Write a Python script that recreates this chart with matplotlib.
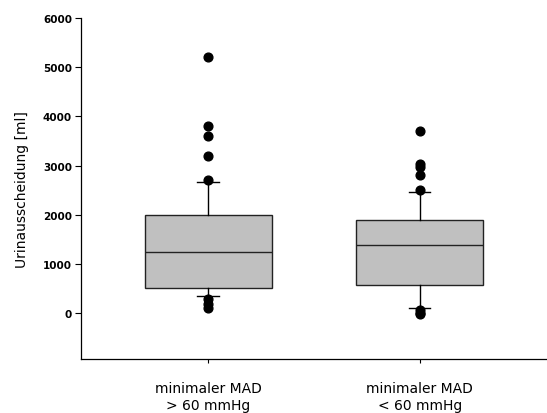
import matplotlib
matplotlib.use("Agg")
import matplotlib.pyplot as plt

plt.rcParams['font.family'] = ['DejaVu Sans']

labels = ["minimaler MAD\n> 60 mmHg", "minimaler MAD\n< 60 mmHg"]
q1 = [510, 570]
med = [1240, 1380]
q3 = [2000, 1890]
whislo = [345, 100]
whishi = [2660, 2470]
fliers = [[5200, 3800, 3600, 3200, 2700, 300, 200, 100],
          [3700, 3030, 2980, 2820, 2500, 60, 0, -20]]

stats = []
for i in range(2):
    stats.append(dict(q1=q1[i], med=med[i], q3=q3[i], whislo=whislo[i],
                      whishi=whishi[i], fliers=fliers[i], label=labels[i]))

fig = plt.figure(figsize=(5.47, 4.14), dpi=100)
ax = fig.add_axes([0.148, 0.130, 0.852, 0.824])

ax.bxp(stats, positions=[1, 2], widths=0.6, patch_artist=True,
       boxprops=dict(facecolor="#c0c0c0", edgecolor="#222222", linewidth=1.0),
       medianprops=dict(color="#222222", linewidth=1.0),
       whiskerprops=dict(color="black", linewidth=1.0),
       capprops=dict(color="black", linewidth=1.0),
       capwidths=0.1,
       flierprops=dict(marker="o", markerfacecolor="black", markeredgecolor="black",
                       markersize=6.3, linestyle="none"))

ax.set_xlim(0.4, 2.6)
ax.set_ylim(-930, 6000)
ax.set_yticks(range(0, 6001, 1000))
ax.tick_params(axis="y", labelsize=7.5, length=4, width=0.8, pad=2.5)
ax.tick_params(axis="x", labelsize=10, length=3, width=0.8, pad=13)
for lab in ax.get_yticklabels():
    lab.set_fontweight("bold")
ax.set_ylabel("Urinausscheidung [ml]", fontsize=10, labelpad=10)

ax.spines["top"].set_visible(False)
ax.spines["right"].set_visible(False)
ax.spines["left"].set_bounds(-930, 6000)
for s in ["left", "bottom"]:
    ax.spines[s].set_linewidth(0.9)

plt.savefig("out.png", dpi=100)
